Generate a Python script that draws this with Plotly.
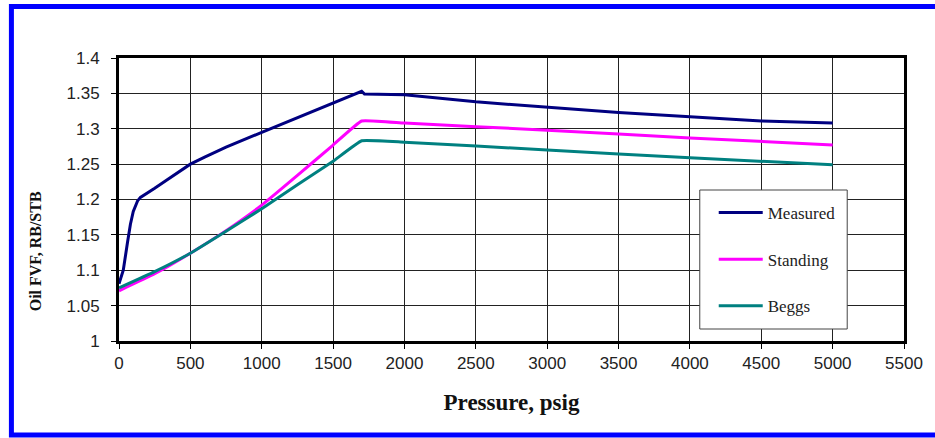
import plotly.graph_objects as go

# Data
measured_p = [0, 30, 60, 80, 100, 115, 130, 150, 200, 250, 330, 420, 500, 600, 750, 1000, 1250, 1500, 1700, 1720, 2000, 2500, 3000, 3500, 4000, 4500, 5000]
measured_b = [1.081, 1.10, 1.14, 1.165, 1.183, 1.192, 1.198, 1.203, 1.209, 1.216, 1.227, 1.239, 1.25, 1.26, 1.274, 1.295, 1.316, 1.337, 1.353, 1.349, 1.348, 1.338, 1.330, 1.323, 1.317, 1.311, 1.308]

standing_p = [0, 250, 500, 750, 1000, 1250, 1500, 1700, 2000, 3000, 4000, 5000]
standing_b = [1.071, 1.095, 1.124, 1.156, 1.192, 1.234, 1.277, 1.311, 1.308, 1.298, 1.287, 1.277]

beggs_p = [0, 250, 500, 750, 1000, 1250, 1500, 1700, 2000, 3000, 4000, 5000]
beggs_b = [1.075, 1.098, 1.124, 1.155, 1.187, 1.221, 1.254, 1.283, 1.281, 1.270, 1.259, 1.249]

x_ticks = list(range(0, 5501, 500))
y_ticks = [1, 1.05, 1.1, 1.15, 1.2, 1.25, 1.3, 1.35, 1.4]
y_tick_text = ["1", "1.05", "1.1", "1.15", "1.2", "1.25", "1.3", "1.35", "1.4"]

W, H = 935, 438
L, R, T, B = 119, 28, 58, 97
pw, ph = W - L - R, H - T - B

def px(x):
    return (x - L) / pw

def py(y):
    return (H - B - y) / ph

fig = go.Figure()
fig.add_trace(go.Scatter(x=measured_p, y=measured_b, mode="lines", name="Measured",
                         line=dict(color="#000080", width=3),
                         legendgroup="m"))
fig.add_trace(go.Scatter(x=standing_p, y=standing_b, mode="lines", name="Standing",
                         line=dict(color="#FF00FF", width=3, shape="spline", smoothing=0.3),
                         legendgroup="s"))
fig.add_trace(go.Scatter(x=beggs_p, y=beggs_b, mode="lines", name="Beggs",
                         line=dict(color="#008080", width=3, shape="spline", smoothing=0.3),
                         legendgroup="b"))

tickfont = dict(family="Liberation Sans, Arial, sans-serif", size=17, color="#222222")

fig.update_layout(
    width=W, height=H,
    margin=dict(l=L, r=R, t=T, b=B),
    paper_bgcolor="white", plot_bgcolor="white",
    showlegend=True,
    legend=dict(
        x=px(716), y=py(195), xanchor="left", yanchor="top",
        bgcolor="rgba(0,0,0,0)", borderwidth=0,
        font=dict(family="Liberation Serif, Times New Roman, serif", size=17, color="#222222"),
        tracegroupgap=21.5, traceorder="grouped", itemwidth=44,
    ),
    xaxis=dict(
        range=[0, 5500], tickvals=x_ticks, ticktext=[str(v) for v in x_ticks],
        showgrid=True, gridcolor="#222222", gridwidth=1,
        showline=True, linecolor="black", linewidth=3, mirror=True,
        ticks="outside", ticklen=5, tickcolor="black", tickwidth=1,
        tickfont=tickfont, zeroline=False,
        title=dict(text="<b>Pressure, psig</b>", standoff=22,
                   font=dict(family="Liberation Serif, Times New Roman, serif", size=23, color="#111111")),
    ),
    yaxis=dict(
        range=[1, 1.4], tickvals=y_ticks, ticktext=y_tick_text,
        showgrid=True, gridcolor="#222222", gridwidth=1,
        showline=True, linecolor="black", linewidth=3, mirror=True,
        ticks="outside", ticklen=5, tickcolor="black", tickwidth=1,
        tickfont=tickfont, zeroline=False, ticklabelstandoff=8,
    ),
    shapes=[
        # blue outer frame
        dict(type="rect", xref="paper", yref="paper",
             x0=px(11), x1=px(960), y0=py(435), y1=py(6.5),
             line=dict(color="#0000FF", width=5), fillcolor="rgba(0,0,0,0)", layer="below"),
        # legend box
        dict(type="rect", xref="paper", yref="paper",
             x0=px(702), x1=px(850), y0=py(329), y1=py(190),
             line=dict(color="#444444", width=1), fillcolor="white", layer="above"),
    ],
    annotations=[
        dict(text="<b>Oil FVF, RB/STB</b>", xref="paper", yref="paper",
             x=px(35), y=py(251), xanchor="center", yanchor="middle",
             showarrow=False, textangle=-90,
             font=dict(family="Liberation Serif, Times New Roman, serif", size=16, color="#111111")),
    ],
)

fig.write_html("out.html")
